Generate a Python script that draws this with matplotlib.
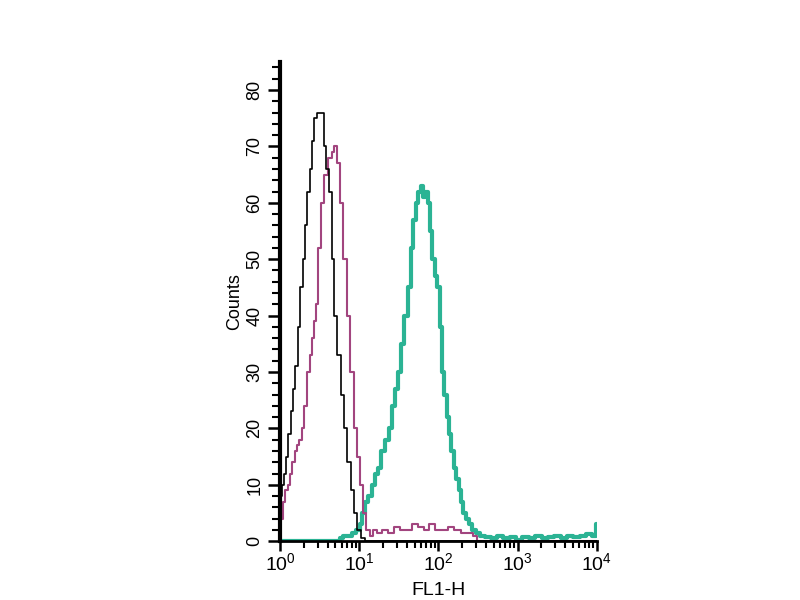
import numpy as np
import matplotlib
matplotlib.use("Agg")
import matplotlib.pyplot as plt
from matplotlib.ticker import MultipleLocator, LogLocator, NullFormatter

plt.rcParams['font.family'] = ['Liberation Sans', 'DejaVu Sans']
plt.rcParams['mathtext.fontset'] = 'custom'
plt.rcParams['mathtext.rm'] = 'Liberation Sans'

# data: log10(FL1-H) positions and counts
black_logx = [0.005, 0.02, 0.04, 0.06, 0.09, 0.12, 0.15, 0.18, 0.21, 0.24, 0.27, 0.30,
              0.33, 0.36, 0.39, 0.42, 0.45, 0.48, 0.51, 0.54, 0.57, 0.60, 0.63, 0.67,
              0.70, 0.75, 0.79, 0.83, 0.87, 0.91, 0.95, 1.00, 1.05, 1.10, 4.00]
black_counts = [47, 8, 10, 12, 15, 19, 23, 27, 31, 38, 45, 50,
                56, 62, 66, 71, 75, 76, 76, 76, 70, 66, 62, 50,
                40, 33, 26, 20, 14, 9, 5, 2, 0.5, 0, 0]

magenta_logx = [0.005, 0.02, 0.05, 0.08, 0.11, 0.14, 0.17, 0.20, 0.23, 0.26, 0.29, 0.32,
                0.36, 0.39, 0.42, 0.45, 0.47, 0.50, 0.53, 0.58, 0.63, 0.67, 0.70, 0.74,
                0.78, 0.82, 0.86, 0.91, 0.95, 0.99, 1.03, 1.07, 1.11, 1.15, 1.20, 1.26,
                1.32, 1.40, 1.48, 1.55, 1.62, 1.70, 1.78, 1.85, 1.92, 2.00, 2.08, 2.16,
                2.24, 2.32, 2.40, 2.46, 2.52, 4.00]
magenta_counts = [12, 4, 7, 9, 10, 12, 14, 16, 17, 18, 20, 24,
                  30, 33, 36, 39, 42, 52, 60, 65, 68, 69, 70, 67,
                  60, 50, 40, 30, 20, 15, 10, 5, 2, 1, 2, 1.5,
                  2, 1.5, 2.5, 2, 2, 3, 2.5, 2, 3, 2, 2, 2.5,
                  2, 1.5, 1.5, 1, 0, 0]

teal_logx = [0.00, 0.74, 0.77, 0.82, 0.88, 0.94, 0.99, 1.02, 1.05, 1.09, 1.14, 1.18,
             1.22, 1.26, 1.30, 1.35, 1.39, 1.43, 1.47, 1.51, 1.55, 1.59, 1.63, 1.67,
             1.70, 1.73, 1.76, 1.79, 1.82, 1.85, 1.88, 1.91, 1.94, 1.97, 2.00, 2.03,
             2.06, 2.09, 2.12, 2.15, 2.18, 2.21, 2.24, 2.27, 2.30, 2.33, 2.37, 2.41,
             2.45, 2.50, 2.55, 2.62, 2.70, 2.78, 2.86, 2.94, 3.02, 3.10, 3.18, 3.26,
             3.34, 3.42, 3.50, 3.58, 3.66, 3.74, 3.82, 3.90, 3.97, 4.00]
teal_counts = [0, 0, 0.5, 1, 1, 1.5, 2, 3, 5, 7, 8, 10,
               12, 13, 16, 18, 20, 24, 27, 30, 35, 40, 45, 52,
               57, 60, 62, 63, 61, 62, 60, 55, 50, 47, 45, 38,
               30, 26, 22, 19, 16, 13, 11, 9, 7, 5, 4, 3,
               2, 1.5, 1, 0.8, 0.5, 1, 0.5, 0.8, 0.3, 0.8, 0.5, 1,
               0.5, 0.8, 1, 0.6, 1, 0.8, 1, 1.2, 1, 3]

fig = plt.figure(figsize=(8, 6), dpi=100)
ax = fig.add_axes([0.35, 0.098, 0.396, 0.799])

ax.plot(10 ** np.array(black_logx), black_counts, drawstyle='steps-mid',
        color='black', lw=1.2, zorder=3)
ax.plot(10 ** np.array(magenta_logx), magenta_counts, drawstyle='steps-mid',
        color='#a2457f', lw=1.5, zorder=2)
ax.plot(10 ** np.array(teal_logx), teal_counts, drawstyle='steps-mid',
        color='#2bb394', lw=3, zorder=1)

ax.set_xscale('log')
ax.set_xlim(1, 1e4)
ax.set_ylim(0, 85)

for s in ['top', 'right']:
    ax.spines[s].set_visible(False)
ax.spines['left'].set_linewidth(3)
ax.spines['bottom'].set_linewidth(2)

ax.yaxis.set_major_locator(MultipleLocator(10))
ax.yaxis.set_minor_locator(MultipleLocator(2))
ax.set_yticks(range(0, 90, 10))
ax.set_yticklabels([str(v) for v in range(0, 90, 10)], rotation=90, va='center', fontsize=13)
ax.tick_params(axis='y', which='major', length=9, width=1.8, direction='out', pad=3)
ax.tick_params(axis='y', which='minor', length=6, width=1.5, direction='out')

ax.xaxis.set_major_locator(LogLocator(base=10, numticks=10))
ax.xaxis.set_minor_locator(LogLocator(base=10, subs=np.arange(2, 10), numticks=10))
ax.xaxis.set_minor_formatter(NullFormatter())
ax.tick_params(axis='x', which='major', length=7, width=1.8, direction='out', labelsize=14, pad=1)
ax.tick_params(axis='x', which='minor', length=5, width=1.5, direction='out')

ax.set_xlabel('FL1-H', fontsize=14)
ax.xaxis.set_label_coords(0.5, -0.085)
ax.set_ylabel('Counts', fontsize=13, labelpad=2)

fig.savefig('out.png', dpi=100)
